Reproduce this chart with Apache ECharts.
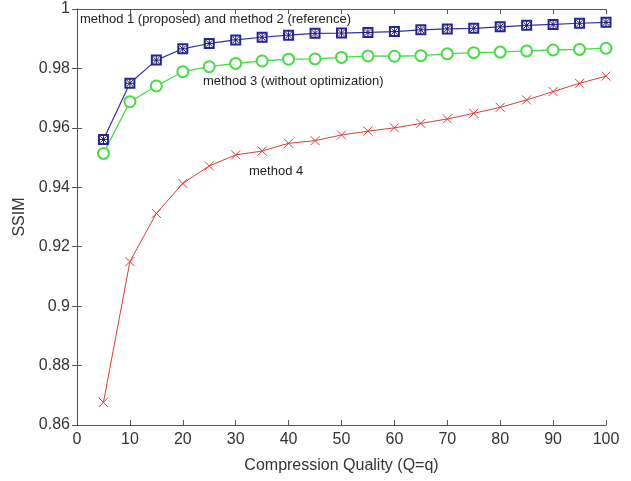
<!DOCTYPE html>
<html>
<head>
<meta charset="utf-8">
<script src="https://cdn.jsdelivr.net/npm/echarts@6/dist/echarts.min.js"></script>
<style>html,body{margin:0;padding:0;background:#fff}#c{width:631px;height:481px}</style>
</head>
<body>
<div id="c"></div>
<script>
var quality = [5,10,15,20,25,30,35,40,45,50,55,60,65,70,75,80,85,90,95,100];
var method1 = [0.9561,0.9750,0.9828,0.9866,0.9884,0.9896,0.9905,0.9912,0.9918,0.9919,0.9921,0.9924,0.9930,0.9933,0.9935,0.9940,0.9945,0.9948,0.9952,0.9955];
var method2 = [0.9561,0.9750,0.9828,0.9866,0.9884,0.9896,0.9905,0.9912,0.9918,0.9919,0.9921,0.9924,0.9930,0.9933,0.9935,0.9940,0.9945,0.9948,0.9952,0.9955];
var method3 = [0.9514,0.9688,0.9741,0.9789,0.9806,0.9817,0.9825,0.9831,0.9832,0.9837,0.9842,0.9841,0.9843,0.9849,0.9853,0.9855,0.9859,0.9862,0.9864,0.9868];
var method4 = [0.8676,0.9150,0.9312,0.9413,0.9472,0.9509,0.9522,0.9548,0.9557,0.9576,0.9589,0.9600,0.9615,0.9630,0.9649,0.9669,0.9694,0.9722,0.9750,0.9774];
var xTicks = [0,10,20,30,40,50,60,70,80,90,100];
var yTicks = [0.86,0.88,0.9,0.92,0.94,0.96,0.98,1];
var labels = ['method 1 (proposed) and method 2 (reference)','method 3 (without optimization)','method 4'];

function pairs(v){ return quality.map(function(q,i){ return [q, v[i]]; }); }
var axisCol = '#555';
var font = 'Liberation Sans, Arial, sans-serif';
var chart = echarts.init(document.getElementById('c'));
var xLine = {show:true, lineStyle:{color:axisCol, width:1}};
chart.setOption({
  animation:false,
  grid:{left:77, right:25, top:9, bottom:56},
  xAxis:[{
    type:'value', min:xTicks[0], max:xTicks[xTicks.length-1], interval:10, position:'bottom',
    axisLine:xLine, axisTick:{inside:true, length:5, lineStyle:{color:axisCol}},
    axisLabel:{color:'#333', fontSize:16, fontFamily:font, margin:7},
    splitLine:{show:false},
    name:'Compression Quality (Q=q)', nameLocation:'middle', nameGap:33,
    nameTextStyle:{color:'#333', fontSize:16, fontFamily:font}
  },{
    type:'value', min:xTicks[0], max:xTicks[xTicks.length-1], interval:10, position:'top',
    axisLine:xLine, axisTick:{inside:true, length:5, lineStyle:{color:axisCol}},
    axisLabel:{show:false}, splitLine:{show:false}
  }],
  yAxis:[{
    type:'value', min:yTicks[0], max:yTicks[yTicks.length-1], interval:0.02, position:'left',
    axisLine:xLine, axisTick:{inside:true, length:5, lineStyle:{color:axisCol}},
    axisLabel:{color:'#333', fontSize:16, fontFamily:font, margin:7,
      formatter:function(v){ return String(+v.toFixed(2)); }},
    splitLine:{show:false},
    name:'SSIM', nameLocation:'middle', nameGap:49, nameRotate:90,
    nameTextStyle:{color:'#333', fontSize:16, fontFamily:font}
  },{
    type:'value', min:yTicks[0], max:yTicks[yTicks.length-1], interval:0.02, position:'right',
    axisLine:xLine, axisTick:{inside:true, length:5, lineStyle:{color:axisCol}},
    axisLabel:{show:false}, splitLine:{show:false}
  }],
  series:[
    {type:'line', name:'method 4', data:pairs(method4), symbol:'path://M0,0L10,10M10,0L0,10', symbolSize:9,
     lineStyle:{color:'#e03a3a', width:1}, itemStyle:{color:'rgba(0,0,0,0)', borderColor:'#e03a3a', borderWidth:1}},
    {type:'line', name:'method 3', data:pairs(method3), symbol:'emptyCircle', symbolSize:11,
     lineStyle:{color:'#44dd44', width:1.3}, itemStyle:{color:'#44dd44', borderWidth:1.2}},
    {type:'line', name:'method 2', data:pairs(method2), symbol:'emptyRect', symbolSize:9,
     lineStyle:{color:'#3030a8', width:1.2}, itemStyle:{color:'#25259a', borderWidth:1.2}},
    {type:'line', name:'method 1', data:pairs(method1), symbol:'path://M5,0L5,10M0,5L10,5M1.5,1.5L8.5,8.5M8.5,1.5L1.5,8.5', symbolSize:9,
     lineStyle:{opacity:0}, itemStyle:{color:'rgba(0,0,0,0)', borderColor:'#1a1a60', borderWidth:1}}
  ],
  graphic:[
    {type:'text', left:80, top:13, style:{text:labels[0], fill:'#222', font:'13px '+font}},
    {type:'text', left:203, top:75, style:{text:labels[1], fill:'#222', font:'13px '+font}},
    {type:'text', left:249, top:165, style:{text:labels[2], fill:'#222', font:'13px '+font}}
  ]
});
</script>
</body>
</html>
